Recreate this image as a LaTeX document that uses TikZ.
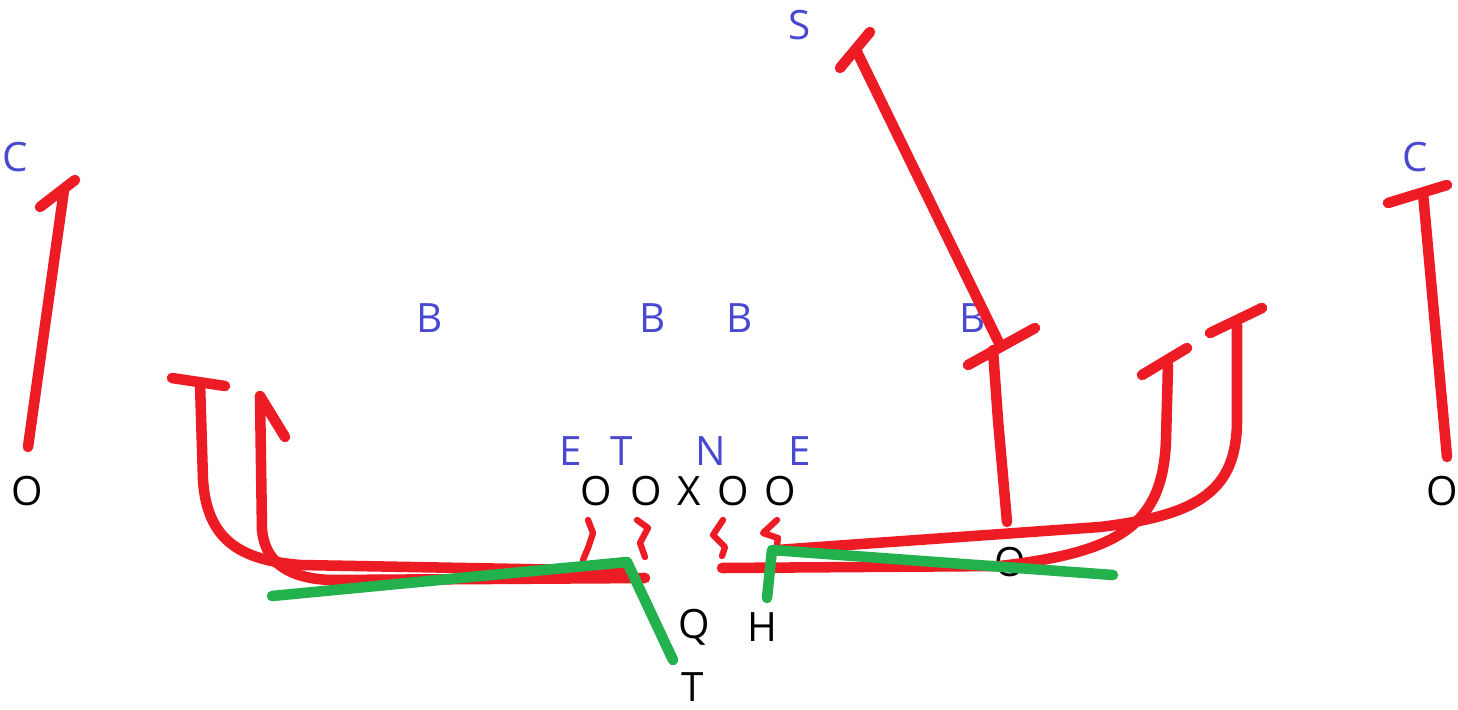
\documentclass[tikz,border=0pt]{standalone}
\usepackage{fontspec}
\setmainfont{Open Sans}
\definecolor{pred}{RGB}{237,28,36}
\definecolor{pgreen}{RGB}{34,177,76}
\definecolor{pblue}{RGB}{72,72,208}
\begin{document}
\begin{tikzpicture}[x=0.02cm,y=-0.02cm,
  route/.style={draw=pred,line width=6pt,line cap=round,line join=round},
  blockline/.style={draw=pgreen,line width=6pt,line cap=round,line join=round},
  squig/.style={draw=pred,line width=3.6pt,line cap=round,line join=round},
  off/.style={font=\fontsize{23}{26}\selectfont,text=black,inner sep=0pt},
  dfn/.style={font=\fontsize{23}{26}\selectfont,text=pblue,inner sep=0pt}]
\useasboundingbox (0,0) rectangle (1458,710);
% defense
\node[dfn] (S) at (800,25) {S};
\node[dfn] (CL) at (15,157) {C};
\node[dfn] (CR) at (1415,157) {C};
\node[dfn] (B1) at (430,318) {B};
\node[dfn] (B2) at (653,318) {B};
\node[dfn] (B3) at (740,318) {B};
\node[dfn] (B4) at (973,318) {B};
\node[dfn] (E1) at (571,451) {E};
\node[dfn] (T1) at (622,451) {T};
\node[dfn] (N1) at (711,451) {N};
\node[dfn] (E2) at (800,451) {E};
% offense
\node[off] (WL) at (27,491) {O};
\node[off] (WR) at (1442,491) {O};
\node[off] (L1) at (596,491) {O};
\node[off] (L2) at (646,491) {O};
\node[off] (X) at (689,491) {X};
\node[off] (L3) at (733,491) {O};
\node[off] (L4) at (780,491) {O};
\node[off] (RB) at (1010,562) {O};
\node[off] (Q) at (694,627) {Q};
\node[off] (H) at (762,627) {H};
\node[off] (TB) at (693,687) {T};
% left receiver
\draw[route] (28,447) -- (64,190);
\draw[route] (40,207) -- (75,180);
% safety
\draw[route] (857,52) -- (1000,345);
\draw[route] (840,68) -- (870,32);
\draw[route] (968,365) -- (1035,328);
\draw[route] (1007,522) -- (998,420) -- (993,350);
% right receiver
\draw[route] (1447,457) -- (1423,193);
\draw[route] (1388,203) -- (1447,185);
% right routes
\draw[route] (722,568) -- (1000,566) .. controls (1120,552) and (1163,525) .. (1166,440) -- (1168,365);
\draw[route] (1142,375) -- (1187,348);
\draw[route] (777,550) -- (1100,527) .. controls (1200,515) and (1237,490) .. (1237,420) -- (1237,325);
\draw[route] (1210,333) -- (1262,308);
% left routes
\draw[route] (172,378) -- (225,386);
\draw[route] (200,383) -- (203,480) .. controls (207,540) and (240,560) .. (300,565) -- (630,571);
\draw[route] (285,437) -- (260,396) -- (262,530) .. controls (265,560) and (285,578) .. (330,580) -- (645,578);
% line blocks
\draw[squig] (588,520) -- (593,533) -- (588,548) -- (583,560);
\draw[squig] (637,520) -- (648,528) -- (640,543) -- (645,557);
\draw[squig] (723,520) -- (713,535) -- (725,547) -- (722,556);
\draw[squig] (777,520) -- (763,533) -- (778,538) -- (776,552);
% green
\draw[blockline] (272,596) -- (627,562) -- (673,660);
\draw[blockline] (767,598) -- (772,550) -- (1113,575);
\end{tikzpicture}
\end{document}
